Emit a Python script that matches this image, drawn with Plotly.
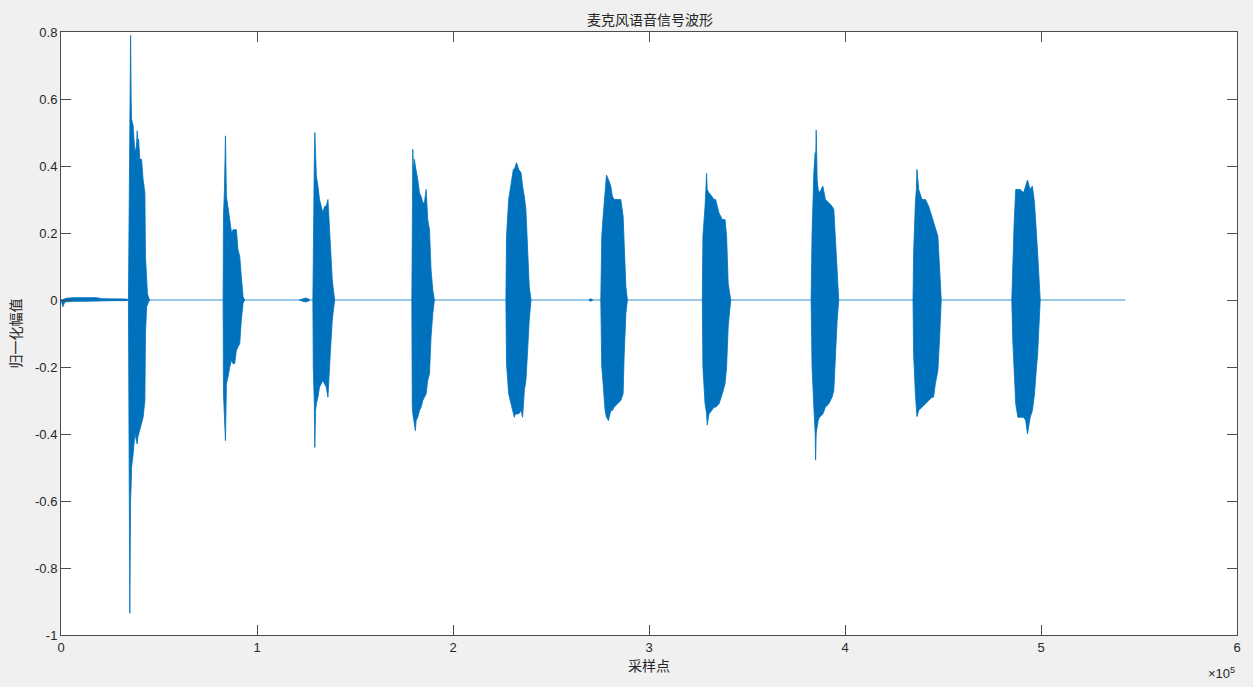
"""Microphone speech waveform, drawn as filled amplitude envelopes per utterance."""

import plotly.graph_objects as go

# sample positions (x) with upper / lower envelope (normalised amplitude)
lead_x = [0, 1000, 1500, 2000, 2500, 6000, 12000, 18000, 21000, 26000, 33000, 34400]
lead_hi = [0, 0, 0.002, 0.004, 0.005, 0.007, 0.008, 0.007, 0.004, 0.003, 0.003, 0]
lead_lo = [0, -0.02, -0.012, -0.006, -0.004, -0.004, -0.004, -0.004, -0.003, -0.002, -0.002, 0]

b1_x = [34400, 34800, 35100, 35500, 35800, 36000, 36800, 37700, 38500, 38900, 39200,
        39600, 40200, 41100, 41900, 42800, 43100, 43700, 44100, 44700, 45300]
b1_hi = [0, 0.35, 0.70, 0.79, 0.60, 0.54, 0.52, 0.44, 0.46, 0.505, 0.47,
         0.48, 0.42, 0.42, 0.36, 0.32, 0.13, 0.035, 0.02, 0.006, 0]
b1_lo = [0, -0.40, -0.935, -0.60, -0.55, -0.50, -0.46, -0.40, -0.42, -0.43, -0.41,
         -0.40, -0.39, -0.37, -0.35, -0.30, -0.10, -0.02, -0.015, -0.005, 0]

b2_x = [82700, 82900, 83400, 83900, 84400, 85200, 86100, 87000, 87800, 88600, 89500,
        90300, 91200, 92000, 92900, 93700]
b2_hi = [0, 0.25, 0.33, 0.49, 0.31, 0.27, 0.24, 0.20, 0.21, 0.21, 0.21, 0.15, 0.13, 0.07, 0.01, 0]
b2_lo = [0, -0.28, -0.33, -0.42, -0.25, -0.23, -0.20, -0.18, -0.19, -0.19, -0.15, -0.14,
         -0.13, -0.06, -0.01, 0]

blip1_x = [121700, 123300, 124800, 126300, 127000]
blip1_hi = [0, 0.004, 0.006, 0.003, 0]
blip1_lo = [0, -0.004, -0.006, -0.003, 0]

b3_x = [128500, 128700, 128900, 129200, 129500, 129900, 130300, 131100, 131900, 132800,
        133600, 134500, 135300, 136200, 136700, 137400, 138400, 139600]
b3_hi = [0, 0.20, 0.37, 0.40, 0.50, 0.40, 0.37, 0.34, 0.30, 0.28, 0.26, 0.28, 0.28, 0.30,
         0.24, 0.14, 0.06, 0]
b3_lo = [0, -0.20, -0.26, -0.30, -0.44, -0.33, -0.31, -0.29, -0.26, -0.25, -0.24, -0.25,
         -0.26, -0.29, -0.23, -0.16, -0.06, 0]

b4_x = [179000, 179200, 179500, 179800, 180300, 180800, 181200, 182000, 182900, 183700,
        184600, 185400, 186300, 187100, 188000, 188800, 189700, 190500]
b4_hi = [0, 0.33, 0.45, 0.38, 0.42, 0.40, 0.39, 0.36, 0.32, 0.31, 0.29, 0.29, 0.33, 0.24,
         0.21, 0.09, 0.03, 0]
b4_lo = [0, -0.31, -0.34, -0.35, -0.37, -0.39, -0.36, -0.35, -0.33, -0.32, -0.30, -0.29,
         -0.28, -0.24, -0.22, -0.11, -0.04, 0]

b5_x = [227000, 227300, 228400, 229600, 230800, 231300, 231800, 232400, 233500, 234700,
        235500, 236400, 237200, 238000, 238900, 239800]
b5_hi = [0, 0.19, 0.30, 0.34, 0.39, 0.39, 0.40, 0.41, 0.39, 0.38, 0.34, 0.31, 0.27, 0.16, 0.04, 0]
b5_lo = [0, -0.19, -0.28, -0.31, -0.34, -0.35, -0.34, -0.34, -0.34, -0.33, -0.35, -0.27,
         -0.24, -0.16, -0.06, 0]

blip2_x = [269300, 270300, 271300]
blip2_hi = [0, 0.004, 0]
blip2_lo = [0, -0.004, 0]

b6_x = [275400, 275900, 276600, 277100, 277600, 278300, 279300, 280500, 281300, 282200,
        283900, 285600, 286800, 287300, 288200, 289000]
b6_hi = [0, 0.19, 0.25, 0.29, 0.33, 0.373, 0.36, 0.34, 0.31, 0.30, 0.30, 0.30, 0.25, 0.18, 0.04, 0]
b6_lo = [0, -0.20, -0.25, -0.30, -0.33, -0.35, -0.36, -0.33, -0.33, -0.32, -0.31, -0.30,
         -0.28, -0.17, -0.04, 0]

b7_x = [327200, 327500, 328600, 329400, 329700, 330600, 332000, 333100, 334000, 335700,
        337400, 338800, 339600, 340400, 341700]
b7_hi = [0, 0.19, 0.28, 0.378, 0.33, 0.32, 0.31, 0.30, 0.30, 0.26, 0.24, 0.24, 0.19, 0.05, 0]
b7_lo = [0, -0.20, -0.31, -0.34, -0.373, -0.34, -0.33, -0.32, -0.32, -0.31, -0.28, -0.25,
         -0.20, -0.08, 0]

b8_x = [382700, 383200, 384100, 384800, 385000, 385300, 385800, 386300, 387000, 388700,
        390000, 391700, 393400, 394300, 395100, 396000, 396800]
b8_hi = [0, 0.20, 0.38, 0.44, 0.40, 0.507, 0.36, 0.33, 0.32, 0.34, 0.30, 0.29, 0.28, 0.27,
         0.18, 0.08, 0]
b8_lo = [0, -0.20, -0.32, -0.40, -0.478, -0.40, -0.378, -0.36, -0.35, -0.34, -0.32, -0.31,
         -0.29, -0.27, -0.16, -0.06, 0]

b9_x = [434700, 435000, 435900, 436400, 436700, 437600, 439300, 441000, 442700, 444400,
        445200, 446100, 447400, 448300, 449100]
b9_hi = [0, 0.14, 0.29, 0.33, 0.39, 0.33, 0.30, 0.30, 0.28, 0.25, 0.23, 0.22, 0.19, 0.09, 0]
b9_lo = [0, -0.16, -0.28, -0.32, -0.348, -0.33, -0.32, -0.31, -0.30, -0.29, -0.29, -0.25,
         -0.21, -0.11, 0]

b10_x = [485100, 485600, 486300, 487100, 488200, 489400, 491100, 492200, 493100, 494500,
         495600, 496700, 497300, 498300, 499600]
b10_hi = [0, 0.12, 0.23, 0.33, 0.33, 0.33, 0.32, 0.34, 0.358, 0.33, 0.34, 0.29, 0.24, 0.14, 0]
b10_lo = [0, -0.12, -0.22, -0.31, -0.35, -0.35, -0.35, -0.36, -0.40, -0.35, -0.33, -0.28,
          -0.23, -0.16, 0]

signal_end = 542900  # last sample of the recording

x_tick_vals = [0, 100000, 200000, 300000, 400000, 500000, 600000]
x_tick_text = ["0", "1", "2", "3", "4", "5", "6"]
y_tick_vals = [-1, -0.8, -0.6, -0.4, -0.2, 0, 0.2, 0.4, 0.6, 0.8]
y_tick_text = ["-1", "-0.8", "-0.6", "-0.4", "-0.2", "0", "0.2", "0.4", "0.6", "0.8"]

segments = [
    (lead_x, lead_hi, lead_lo),
    (b1_x, b1_hi, b1_lo),
    (b2_x, b2_hi, b2_lo),
    (blip1_x, blip1_hi, blip1_lo),
    (b3_x, b3_hi, b3_lo),
    (b4_x, b4_hi, b4_lo),
    (b5_x, b5_hi, b5_lo),
    (blip2_x, blip2_hi, blip2_lo),
    (b6_x, b6_hi, b6_lo),
    (b7_x, b7_hi, b7_lo),
    (b8_x, b8_hi, b8_lo),
    (b9_x, b9_hi, b9_lo),
    (b10_x, b10_hi, b10_lo),
]

# Build one closed polygon per segment, separated by None
poly_x: list = []
poly_y: list = []
for xs, hi, lo in segments:
    poly_x += xs + xs[::-1] + [None]
    poly_y += hi + lo[::-1] + [None]

LINE_BLUE = "#0072BD"
AXIS_GREY = "#4D4D4D"
TEXT_GREY = "#262626"
BG_GREY = "#F0F0F0"

envelope_trace = go.Scatter(
    x=poly_x,
    y=poly_y,
    mode="lines",
    fill="toself",
    fillcolor=LINE_BLUE,
    line={"color": LINE_BLUE, "width": 0.8},
    hoverinfo="skip",
    showlegend=False,
)
baseline_trace = go.Scatter(
    x=[0, signal_end],
    y=[0, 0],
    mode="lines",
    line={"color": LINE_BLUE, "width": 0.8},
    hoverinfo="skip",
    showlegend=False,
)

fig = go.Figure(data=[baseline_trace, envelope_trace])

axis_common = {
    "showline": True,
    "linecolor": AXIS_GREY,
    "linewidth": 1,
    "mirror": "ticks",
    "ticks": "inside",
    "ticklen": 10,
    "tickcolor": AXIS_GREY,
    "showgrid": False,
    "zeroline": False,
    "tickfont": {"family": "Liberation Sans, Arial", "size": 13, "color": TEXT_GREY},
}

fig.update_xaxes(
    range=[0, 600000],
    tickvals=x_tick_vals,
    ticktext=x_tick_text,
    title={"text": "采样点", "standoff": 6,
           "font": {"family": "Noto Sans CJK SC", "size": 14, "color": TEXT_GREY}},
    **axis_common,
)
fig.update_yaxes(
    range=[-1, 0.8],
    tickvals=y_tick_vals,
    ticktext=y_tick_text,
    title={"text": "归一化幅值", "standoff": 10,
           "font": {"family": "Noto Sans CJK SC", "size": 14, "color": TEXT_GREY}},
    **axis_common,
)

fig.update_layout(
    width=1253,
    height=687,
    paper_bgcolor=BG_GREY,
    plot_bgcolor="#FFFFFF",
    margin={"l": 61, "r": 14, "t": 32, "b": 52},
    title={
        "text": "麦克风语音信号波形",
        "x": 0.5 + (61 - 14) / 2 / 1253,
        "xanchor": "center",
        "y": 1 - 20 / 687,
        "yanchor": "middle",
        "font": {"family": "Noto Sans CJK SC", "size": 14, "color": TEXT_GREY},
    },
    annotations=[
        {
            "text": "×10<sup>5</sup>",
            "xref": "paper",
            "yref": "paper",
            "x": 1.0,
            "y": 0,
            "xanchor": "right",
            "yanchor": "top",
            "yshift": -28,
            "showarrow": False,
            "font": {"family": "Liberation Sans, Arial", "size": 13, "color": TEXT_GREY},
        }
    ],
)

# Drop the page's default body margin so the figure sits flush with the window
fig.write_html(
    "out.html",
    config={"displayModeBar": False},
    post_script=(
        "document.body.style.margin='0';"
        f"document.body.style.background='{BG_GREY}';"
        "document.body.style.overflow='hidden';"
    ),
)
